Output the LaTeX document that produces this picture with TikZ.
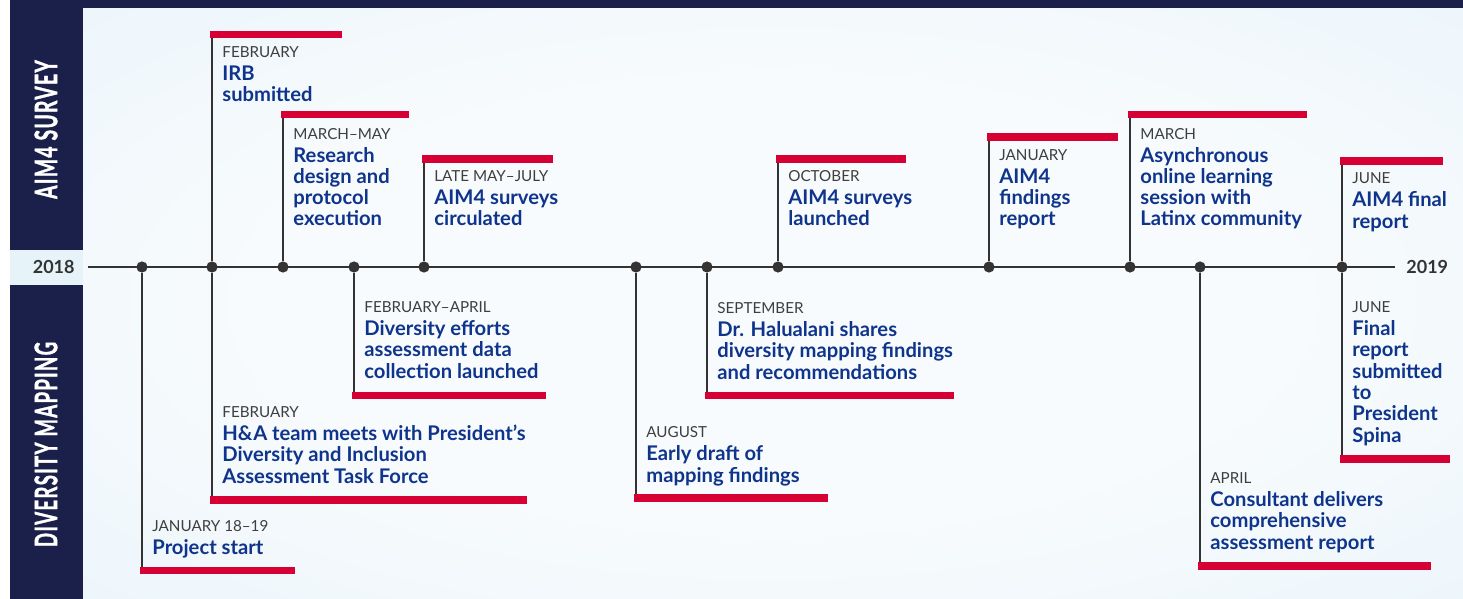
\documentclass[tikz,border=0pt]{standalone}
\usepackage{fontspec}
\usepackage{graphicx}
\setmainfont{Lato}
\newfontfamily\sidefont[UprightFont={* Bold}, FakeBold=1.6, LetterSpace=7]{Lato}

\definecolor{navy}{RGB}{27,32,74}
\definecolor{aimblue}{RGB}{14,52,140}
\definecolor{barred}{RGB}{214,0,52}
\definecolor{linegray}{RGB}{51,51,51}
\definecolor{mongray}{RGB}{62,62,62}
\definecolor{bgin}{RGB}{248,251,253}
\definecolor{bgout}{RGB}{228,242,250}
\definecolor{band}{RGB}{230,243,249}

\pgfdeclareradialshading{bgglow}{\pgfpoint{0bp}{0bp}}{color(0bp)=(bgin); color(18bp)=(bgin); color(50bp)=(bgout)}

\newcommand{\when}[1]{{\color{mongray}\fontsize{7.6}{9}\mdseries\selectfont #1}}

\begin{document}
\begin{tikzpicture}[x=0.5pt,y=-0.5pt]

\tikzset{dot/.style = {circle,fill=linegray,inner sep=0,minimum size=5.6pt}}
\tikzset{stem/.style = {draw=linegray,line width=1pt}}
\tikzset{bar/.style = {draw=barred,line width=3.8pt}}
\tikzset{evt/.style = {align=left,inner sep=0,text=aimblue,font=\fontsize{10.1}{10.65}\selectfont\bfseries}}
\tikzset{year/.style = {inner sep=0,text=linegray,font=\fontsize{9}{10}\selectfont\bfseries}}
\tikzset{side/.style = {rotate=90,inner sep=0,text=white,font=\fontsize{15.5}{16}\sidefont}}

%background
\useasboundingbox (0,0) rectangle (1463,599);
\fill[white] (0,0) rectangle (1463,599);
\shade[shading=bgglow] (83,8) rectangle (1463,599);
\fill[navy] (10,0) rectangle (1463,8);
\fill[navy] (10,0) rectangle (83,599);
\fill[band] (10,250) rectangle (83,285);
\node[side] (s1) at (46,129.5) {\scalebox{0.62}[1]{AIM4 SURVEY}};
\node[side] (s2) at (46,444.5) {\scalebox{0.6}[1]{DIVERSITY MAPPING}};

%timeline
\node[year, anchor=east] (y18) at (75,267) {2018};
\node[year, anchor=west] (y19) at (1406,267) {2019};
\draw[line width=1.25pt, linegray] ([xshift=6.5pt]y18.east) -- ([xshift=-5.5pt]y19.west);

%bars
\coordinate (a1) at (212,34.5);
\coordinate (a2) at (283,114.5);
\coordinate (a3) at (424,159);
\coordinate (a4) at (778,159);
\coordinate (a5) at (989,137);
\coordinate (a6) at (1130,114.5);
\coordinate (a7) at (1342,161);
\coordinate (b1) at (142,570.5);
\coordinate (b2) at (212,500);
\coordinate (b3) at (354,395.5);
\coordinate (b4) at (636,498);
\coordinate (b5) at (707,395.5);
\coordinate (b6) at (1200,566);
\coordinate (b7) at (1342,459);

%dots
\node[dot] (d1) at (142,267) {};
\node[dot] (d2) at (212,267) {};
\node[dot] (d3) at (283,267) {};
\node[dot] (d4) at (354,267) {};
\node[dot] (d5) at (424,267) {};
\node[dot] (d6) at (636,267) {};
\node[dot] (d7) at (707,267) {};
\node[dot] (d8) at (778,267) {};
\node[dot] (d9) at (989,267) {};
\node[dot] (d10) at (1130,267) {};
\node[dot] (d11) at (1200,267) {};
\node[dot] (d12) at (1342,267) {};

%stems
\draw[stem] (d2) -- (a1);
\draw[stem] (d3) -- (a2);
\draw[stem] (d5) -- (a3);
\draw[stem] (d8) -- (a4);
\draw[stem] (d9) -- (a5);
\draw[stem] (d10) -- (a6);
\draw[stem] (d12) -- (a7);
\draw[stem] (d1) -- (b1);
\draw[stem] (d2) -- (b2);
\draw[stem] (d4) -- (b3);
\draw[stem] (d6) -- (b4);
\draw[stem] (d7) -- (b5);
\draw[stem] (d11) -- (b6);
\draw[stem] (d12) -- (b7);

\draw[bar] ([xshift=-1pt]a1) -- ++(132,0);
\draw[bar] ([xshift=-1pt]a2) -- ++(128,0);
\draw[bar] ([xshift=-1pt]a3) -- ++(131,0);
\draw[bar] ([xshift=-1pt]a4) -- ++(130,0);
\draw[bar] ([xshift=-1pt]a5) -- ++(131,0);
\draw[bar] ([xshift=-1pt]a6) -- ++(179,0);
\draw[bar] ([xshift=-1pt]a7) -- ++(103,0);
\draw[bar] ([xshift=-1pt]b1) -- ++(155,0);
\draw[bar] ([xshift=-1pt]b2) -- ++(317,0);
\draw[bar] ([xshift=-1pt]b3) -- ++(194,0);
\draw[bar] ([xshift=-1pt]b4) -- ++(194,0);
\draw[bar] ([xshift=-1pt]b5) -- ++(249,0);
\draw[bar] ([xshift=-1pt]b6) -- ++(233,0);
\draw[bar] ([xshift=-1pt]b7) -- ++(110,0);

%AIM4 survey (base = last line)
\node[evt, anchor=base west] (t1) at (222,102) {\when{FEBRUARY}\\[0.8pt] IRB\\submitted};
\node[evt, anchor=base west] (t2) at (293,226) {\when{MARCH–MAY}\\[0.8pt] Research\\design and\\protocol\\execution};
\node[evt, anchor=base west] (t3) at (434,226) {\when{LATE MAY–JULY}\\[0.8pt] AIM4 surveys\\circulated};
\node[evt, anchor=base west] (t4) at (788,226) {\when{OCTOBER}\\[0.8pt] AIM4 surveys\\launched};
\node[evt, anchor=base west] (t5) at (999,226) {\when{JANUARY}\\[0.8pt] AIM4\\findings\\report};
\node[evt, anchor=base west] (t6) at (1140,226) {\when{MARCH}\\[0.8pt] Asynchronous\\online learning\\session with\\Latinx community};
\node[evt, anchor=base west] (t7) at (1352,228) {\when{JUNE}\\[0.8pt] AIM4 final\\report};

%diversity mapping
\node[evt, anchor=base west] (u1) at (152,554) {\when{JANUARY 18–19}\\[0.8pt] Project start};
\node[evt, anchor=base west] (u2) at (222,483) {\when{FEBRUARY}\\[0.8pt] H\&A team meets with President’s\\Diversity and Inclusion\\Assessment Task Force};
\node[evt, anchor=base west] (u3) at (364,378) {\when{FEBRUARY–APRIL}\\[0.8pt] Diversity efforts\\assessment data\\collection launched};
\node[evt, anchor=base west] (u4) at (646,482) {\when{AUGUST}\\[0.8pt] Early draft of\\mapping findings};
\node[evt, anchor=base west] (u5) at (717,379) {\when{SEPTEMBER}\\[0.8pt] Dr. Halualani shares\\diversity mapping findings\\and recommendations};
\node[evt, anchor=base west] (u6) at (1210,549) {\when{APRIL}\\[0.8pt] Consultant delivers\\comprehensive\\assessment report};
\node[evt, anchor=base west] (u7) at (1352,442) {\when{JUNE}\\[0.8pt] Final\\report\\submitted\\to\\President\\Spina};

\end{tikzpicture}
\end{document}
